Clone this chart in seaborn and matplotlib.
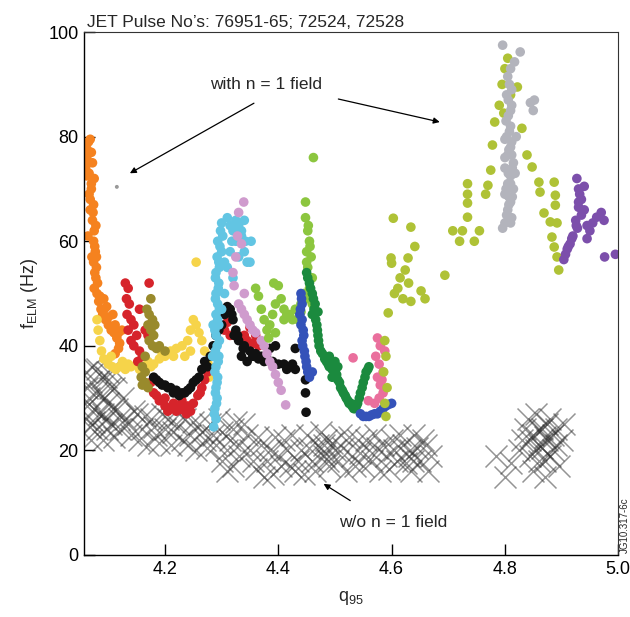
import numpy as np
import pandas as pd
import matplotlib
matplotlib.use("Agg")
import matplotlib.pyplot as plt
import seaborn as sns

# ---------------- data (q95, f_ELM) ----------------
orange = [(4.060,78),(4.065,79),(4.070,77),(4.062,76),(4.072,75),(4.066,73),(4.060,74),
          (4.075,72),(4.070,71),(4.058,74.5),(4.068,68),(4.074,67),(4.072,64),(4.075,62),
          (4.074,60),(4.077,58),(4.074,56),(4.076,54),(4.078,53),(4.075,51),(4.080,50),
          (4.083,48.5),(4.087,47),(4.090,46),(4.095,45),(4.100,44),(4.105,43),(4.110,42.5),
          (4.115,41.5),(4.124,43),(4.108,46),(4.068,66),(4.064,61),(4.071,57),(4.079,55),
          (4.092,49),(4.097,47.5),(4.118,39.5),(4.112,38.5),
          (4.063,77.5),(4.068,79.5),(4.062,72.5),(4.070,70),(4.066,69),(4.073,65.5),
          (4.078,63),(4.076,59),(4.079,57),(4.081,52),(4.085,49.5),(4.093,47),(4.100,45.5),
          (4.112,44),(4.118,42.5),(4.120,40.5)]
yellow = [(4.080,45),(4.082,43),(4.085,41),(4.088,39),(4.092,37.5),(4.100,36.5),(4.107,36),
          (4.113,35.5),(4.120,36),(4.130,35.5),(4.140,36),(4.150,36.5),(4.160,36),(4.170,37),
          (4.180,36.5),(4.190,37.5),(4.200,38),(4.210,39),(4.220,39.5),(4.230,40),(4.240,41),
          (4.245,43),(4.250,45),(4.255,44),(4.265,41),(4.270,39),(4.275,37),(4.280,36),
          (4.278,34),(4.255,56),(4.245,39),(4.235,38),(4.125,37),(4.105,38),
          (4.135,36.5),(4.155,35.5),(4.175,36),(4.195,38.5),(4.215,38),(4.260,42.5)]
red = [(4.130,52),(4.135,51),(4.132,49),(4.137,48),(4.133,46),(4.140,45),(4.145,44),
       (4.135,43),(4.150,42),(4.140,41),(4.145,40),(4.155,39),(4.160,38),(4.152,37),
       (4.172,52),(4.165,43),(4.155,47),(4.170,42),(4.175,33),(4.180,31),(4.190,29.5),
       (4.200,28.5),(4.210,28),(4.220,27.5),(4.230,27.8),(4.240,28.5),(4.250,29),
       (4.258,30.5),(4.265,32),(4.270,33.5),(4.275,35),(4.200,30),(4.215,29),(4.230,29.5),
       (4.245,27.5),(4.305,43),(4.310,44.5),(4.315,42),(4.340,42),(4.345,41),(4.355,40.5),
       (4.360,42),(4.350,43.5),(4.365,40),(4.185,30.5),(4.205,27.5),(4.225,28.5),
       (4.238,27),(4.262,31)]
olive = [(4.175,49),(4.172,46),(4.178,45),(4.170,44),(4.175,43),(4.180,42),(4.172,41),
         (4.178,40),(4.185,39.5),(4.190,40),(4.200,39),(4.165,38),(4.160,36),(4.165,35),
         (4.158,34),(4.165,33),(4.170,32),(4.160,32.5),(4.182,44),(4.168,47)]
black = [(4.180,34),(4.190,33),(4.200,32.5),(4.210,32),(4.220,31.5),(4.230,31),(4.240,31.5),
         (4.250,33),(4.260,34),(4.265,35.5),(4.270,37),(4.275,36),(4.280,38),(4.290,42),
         (4.300,44),(4.305,46),(4.310,47.5),(4.315,47),(4.320,45),(4.325,43),(4.330,41),
         (4.340,40),(4.350,39),(4.360,38.5),(4.370,38),(4.380,37.5),(4.390,37),(4.400,36.5),
         (4.410,36.5),(4.420,36),(4.430,35.5),(4.430,39.5),(4.448,33.5),(4.448,31),
         (4.449,27.3),(4.335,38),(4.345,37),(4.322,42),(4.385,39.5),(4.395,40),
         (4.185,33.5),(4.195,32.5),(4.205,32),(4.215,31),(4.225,30.5),(4.235,31),
         (4.245,32),(4.255,33.5),(4.285,40),(4.295,43),(4.318,46),(4.328,42),(4.338,39.5),
         (4.355,38),(4.365,37.5),(4.375,37),(4.415,35.5),(4.425,36.5)]
cyan = [(4.290,26),(4.288,28),(4.292,30),(4.290,32),(4.293,34),(4.290,36),(4.295,38),
        (4.292,40),(4.290,42),(4.295,44),(4.290,46),(4.293,48),(4.290,50),(4.295,52),
        (4.290,54),(4.295,56),(4.300,58),(4.293,60),(4.298,62),(4.300,63.5),(4.310,64.5),
        (4.320,62),(4.325,60),(4.330,63),(4.335,61),(4.340,58),(4.345,56),(4.330,57),
        (4.315,58),(4.310,55),(4.320,53),(4.305,50),(4.300,47),(4.285,44),(4.284,38),
        (4.286,24.5),(4.350,56),(4.352,60),(4.340,64),
        (4.287,27),(4.291,29),(4.289,31),(4.292,33),(4.288,35),(4.294,37),(4.289,39),
        (4.296,41),(4.288,43),(4.293,45),(4.296,47),(4.289,49),(4.294,51),(4.289,53),
        (4.296,55),(4.292,57),(4.297,59),(4.302,61),(4.315,63),(4.325,64),(4.335,62),
        (4.342,60),(4.318,60),(4.305,56)]
lilac = [(4.339,67.5),(4.330,65.5),(4.328,61),(4.335,59.5),(4.320,54),(4.322,51.5),
         (4.330,48),(4.335,47),(4.340,46),(4.345,45),(4.350,44),(4.355,43),(4.360,42.5),
         (4.370,41),(4.375,40),(4.380,38.5),(4.385,37),(4.390,36),(4.395,34.5),(4.400,33),
         (4.405,31.5),(4.413,28.7),(4.340,50),(4.325,57)]
lgreen = [(4.462,76),(4.448,67.5),(4.448,64.5),(4.452,62),(4.455,60),(4.450,58),(4.458,57),
          (4.452,55),(4.460,53),(4.455,51),(4.450,49),(4.440,48),(4.430,47),(4.420,46),
          (4.410,47),(4.405,49),(4.400,51.5),(4.392,52),(4.395,48),(4.390,46),(4.385,44),
          (4.380,43),(4.375,45),(4.370,47),(4.365,49.5),(4.360,51),(4.383,41.5),(4.395,42.5),
          (4.410,45),(4.435,45),(4.445,50),(4.460,48),(4.450,56),(4.456,59),(4.453,63),
          (4.415,46),(4.425,45),(4.440,46.5)]
dgreen = [(4.450,54),(4.455,52),(4.460,50),(4.465,48),(4.460,46),(4.468,44),(4.470,42),
          (4.472,40),(4.478,38.5),(4.485,37),(4.490,36),(4.500,35),(4.505,33.5),(4.510,32),
          (4.515,31),(4.520,30),(4.525,29),(4.530,28.5),(4.535,28),(4.540,29),(4.545,31),
          (4.550,33),(4.555,35),(4.560,36),(4.500,37),(4.495,34),(4.470,46.5),
          (4.452,53),(4.457,51),(4.462,49),(4.463,47),(4.466,45),(4.469,43),(4.471,41),
          (4.475,39),(4.482,37.5),(4.488,36.5),(4.495,35.5),(4.503,34.5),(4.508,33),
          (4.513,31.5),(4.518,30.5),(4.523,29.5),(4.528,29),(4.533,28),(4.538,28.5),
          (4.543,30),(4.548,32),(4.553,34),(4.558,35.5),(4.490,38),(4.505,36)]
blue = [(4.440,50),(4.442,48),(4.438,46),(4.440,44),(4.445,42),(4.443,40),(4.447,38),
        (4.450,36),(4.455,34),(4.460,35),(4.545,27),(4.550,26.5),(4.560,26.5),(4.570,27),
        (4.580,27.5),(4.590,28.5),(4.600,29),(4.441,49),(4.439,47),(4.442,45),(4.444,43),
        (4.442,41),(4.446,39),(4.449,37),(4.452,35),(4.555,26.5),(4.565,26.8),(4.575,27),
        (4.585,28),(4.595,28.8)]
pink = [(4.532,37.7),(4.575,41.5),(4.580,40),(4.572,38),(4.578,36.5),(4.585,35),(4.575,34),
        (4.580,32.5),(4.585,31),(4.578,30),(4.570,29),(4.559,29.5),(4.588,39),(4.583,33.5)]
lime = [(4.588,41),(4.590,38),(4.586,35),(4.592,32),(4.588,29),(4.590,26.5),
        (4.603,64.4),(4.634,62.7),(4.641,59),(4.629,56.8),(4.599,56.8),(4.600,55.8),
        (4.624,54.5),(4.611,51),(4.620,49),(4.630,52),(4.634,48.5),(4.652,50.5),(4.659,49),
        (4.594,46.3),(4.605,50),(4.615,53),
        (4.694,53.5),(4.708,62),(4.720,60),(4.725,62),(4.734,71),(4.734,69),(4.734,67.3),
        (4.734,64.6),(4.746,60),(4.755,62),(4.766,69),(4.770,70.7),(4.775,73.6),(4.778,78.4),
        (4.782,82.8),(4.790,86),(4.795,90),(4.800,93),(4.805,95),(4.810,88),(4.798,84.5),
        (4.822,89.5),(4.830,81.6),(4.839,76.5),(4.848,74.2),(4.860,71.3),(4.862,69.4),
        (4.887,71.3),(4.889,68.8),(4.889,66.9),(4.869,65.4),(4.880,63.7),(4.892,63.5),
        (4.883,60.8),(4.887,58.9),(4.892,57),(4.895,54.5)]
grey = [(4.796,97.5),(4.827,96.2),(4.817,94.3),(4.810,93),(4.805,91.5),(4.812,89),
        (4.806,87),(4.810,85),(4.802,83),(4.808,81),(4.800,79.5),(4.810,78),(4.805,76.5),
        (4.815,75),(4.800,74),(4.810,72.5),(4.805,71),(4.815,70),(4.800,69),(4.810,67.5),
        (4.805,66),(4.812,64.5),(4.800,63.5),(4.796,62.5),(4.845,86.5),(4.852,87),
        (4.850,85),(4.820,80),(4.812,76.5),(4.818,73),(4.807,68.5),
        (4.808,90),(4.803,88),(4.812,86),(4.806,84),(4.810,82),(4.803,80),(4.812,79),
        (4.807,77.5),(4.800,76),(4.813,74),(4.806,73),(4.810,71),(4.802,70),(4.813,68.5),
        (4.807,67),(4.803,65),(4.810,63.5)]
purple = [(4.927,72),(4.930,70),(4.935,68),(4.930,66.5),(4.935,65),(4.925,64),(4.928,62.5),
          (4.920,61),(4.915,59.5),(4.910,58.5),(4.904,56.5),(4.940,66),(4.945,63),(4.950,62),
          (4.955,63.5),(4.962,64.6),(4.970,65.5),(4.975,64),(4.976,57),(4.995,57.5),
          (4.940,70.5),(4.945,60.5),(4.932,69),(4.930,67.5),(4.926,63),(4.918,60.5),
          (4.912,59),(4.907,57.5)]

# without n = 1 field (crosses)
without_field = [(4.060,35),(4.065,30),(4.060,26),(4.070,33),(4.075,28),(4.080,24),(4.085,31),
                 (4.090,27),(4.095,34),(4.100,29),(4.105,25),(4.110,32),(4.115,28),(4.120,24),
                 (4.070,22),(4.090,22),(4.125,30),(4.080,35.5),(4.100,35),
                 (4.062,32),(4.067,24.5),(4.072,36),(4.078,31),(4.083,27),(4.088,34),
                 (4.093,30),(4.098,24),(4.103,32),(4.108,28),(4.113,35),(4.118,26),
                 (4.063,28.5),(4.075,25.5),(4.095,26),(4.110,22.5),
                 (4.130,26),(4.140,23),(4.150,27),(4.160,24),(4.170,21),(4.175,26),(4.185,23),
                 (4.195,27),(4.200,24),(4.210,21),(4.220,25),(4.230,22),(4.235,26),(4.245,23),
                 (4.255,20),(4.260,25),(4.270,22),(4.280,25),(4.290,21),(4.300,23.5),(4.310,20),
                 (4.320,24),(4.330,21),(4.340,25),
                 (4.135,25),(4.145,27.5),(4.155,22),(4.165,26.5),(4.180,24.5),(4.190,21.5),
                 (4.205,26),(4.215,23.5),(4.225,27),(4.240,21),(4.250,25.5),(4.265,23.5),
                 (4.275,20.5),(4.285,23),(4.295,26),(4.315,22),(4.325,25.5),
                 (4.300,18),(4.320,17),(4.350,20),(4.360,16.5),(4.370,21),(4.380,18),(4.390,15.5),
                 (4.400,19),(4.410,22),(4.420,17),(4.430,16),(4.440,20),(4.450,23),(4.460,18),
                 (4.470,21),(4.480,19),(4.485,22),(4.490,17),(4.500,20),(4.510,23),(4.520,16),
                 (4.530,19),(4.540,22),(4.550,17),(4.560,20),(4.570,23),(4.580,16),(4.590,19),
                 (4.600,22),(4.610,18),(4.620,21),(4.630,19),(4.635,16),(4.640,23),(4.650,18),
                 (4.660,21),(4.665,16),
                 (4.310,16),(4.330,19),(4.345,23),(4.355,18),(4.365,22.5),(4.375,15),(4.385,20),
                 (4.395,22.5),(4.405,17),(4.415,20),(4.425,23),(4.435,18),(4.445,15.5),
                 (4.455,20.5),(4.465,16),(4.475,23.5),(4.480,21),(4.483,19.5),(4.487,18),
                 (4.495,21.5),(4.505,18),(4.515,20.5),(4.525,22.5),(4.535,17),(4.545,19.5),
                 (4.555,22),(4.565,18),(4.575,20.5),(4.585,21),(4.595,16.5),(4.605,20),
                 (4.615,23),(4.625,17.5),(4.632,20),(4.638,18),(4.645,20.5),(4.655,22),(4.670,19),
                 (4.785,19),(4.800,15),(4.810,17.5),(4.830,22),(4.840,26),(4.845,19),(4.850,23),
                 (4.855,27),(4.860,21),(4.865,24),(4.870,18),(4.875,22),(4.880,26),(4.885,20),
                 (4.890,24),(4.895,17),(4.900,22),(4.905,25),(4.850,16),(4.870,15),
                 (4.845,22),(4.855,20),(4.860,24),(4.865,20.5),(4.870,22.5),(4.875,25),
                 (4.880,19),(4.885,23),(4.890,21),(4.860,18),(4.835,24),(4.825,20)]
stray_point = [(4.115,70.4)]

series = {"orange": orange, "yellow": yellow, "red": red, "olive": olive,
          "black": black, "cyan": cyan, "lilac": lilac, "lgreen": lgreen,
          "dgreen": dgreen, "blue": blue, "pink": pink, "lime": lime,
          "grey": grey, "purple": purple}
palette = {"orange": "#f5821f", "yellow": "#f6d44a", "red": "#d6242b", "olive": "#998a2c",
           "black": "#111111", "cyan": "#62c5e3", "lilac": "#cf9bcd", "lgreen": "#8cc63f",
           "dgreen": "#1b8a3e", "blue": "#3452b9", "pink": "#ea6f9d", "lime": "#afc236",
           "grey": "#b3b4bc", "purple": "#7c4fab"}

rows = []
for name, pts in series.items():
    for q, f in pts:
        rows.append({"q95": q, "fELM": f, "shot": name})
df = pd.DataFrame(rows)
df_x = pd.DataFrame(without_field, columns=["q95", "fELM"])
df_s = pd.DataFrame(stray_point, columns=["q95", "fELM"])

# ---------------- plot ----------------
sns.set_style("white")
plt.rcParams["font.family"] = ["Liberation Sans", "DejaVu Sans"]
plt.rcParams["mathtext.fontset"] = "custom"
plt.rcParams["mathtext.rm"] = "Liberation Sans"
plt.rcParams["mathtext.it"] = "Liberation Sans"

fig = plt.figure(figsize=(6.3, 6.17), dpi=100)
ax = fig.add_axes([0.1333, 0.1005, 0.848, 0.8475])

sns.scatterplot(data=df_x, x="q95", y="fELM", marker="x", s=250, linewidth=1.1,
                color="#2a2a2a", alpha=0.5, ax=ax, zorder=1, legend=False)
sns.scatterplot(data=df, x="q95", y="fELM", hue="shot", palette=palette, s=48,
                edgecolor="none", linewidth=0, ax=ax, zorder=2, legend=False)
sns.scatterplot(data=df_s, x="q95", y="fELM", s=8, color="#999999",
                edgecolor="none", ax=ax, zorder=2, legend=False)

ax.set_xlim(4.057, 5.0)
ax.set_ylim(0, 100)
ax.set_xticks([4.2, 4.4, 4.6, 4.8, 5.0])
ax.set_xticklabels(["4.2", "4.4", "4.6", "4.8", "5.0"])
ax.set_yticks([0, 20, 40, 60, 80, 100])
ax.tick_params(axis="both", direction="in", length=8, width=1, labelsize=13,
               colors="black", pad=4, left=True, bottom=True)
for s in ["left", "bottom"]:
    ax.spines[s].set_color("black")
    ax.spines[s].set_linewidth(1.0)
for s in ["top", "right"]:
    ax.spines[s].set_color("#333333")
    ax.spines[s].set_linewidth(0.8)

ax.set_xlabel(r"q$_{95}$", fontsize=13, labelpad=8)
ax.set_ylabel(r"f$_{\rm ELM}$ (Hz)", fontsize=13, labelpad=6)
ax.text(0.005, 1.004, "JET Pulse No\u2019s: 76951-65; 72524, 72528",
        transform=ax.transAxes, fontsize=12.5, ha="left", va="bottom")

arrow = dict(arrowstyle="-|>", color="black", lw=0.9, mutation_scale=9,
             shrinkA=0, shrinkB=0)
ax.text(4.378, 89.9, "with n = 1 field", fontsize=12.5, ha="center", va="center")
ax.annotate("", xy=(4.138, 73.0), xytext=(4.357, 86.4), arrowprops=arrow)
ax.annotate("", xy=(4.685, 82.8), xytext=(4.506, 87.2), arrowprops=arrow)
ax.text(4.603, 6.3, "w/o n = 1 field", fontsize=12.5, ha="center", va="center")
ax.annotate("", xy=(4.48, 13.6), xytext=(4.527, 10.4), arrowprops=arrow)

fig.text(0.992, 0.104, "JG10.317-6c", rotation=90, fontsize=7, ha="center",
         va="bottom")

fig.savefig("out.png", dpi=100)
